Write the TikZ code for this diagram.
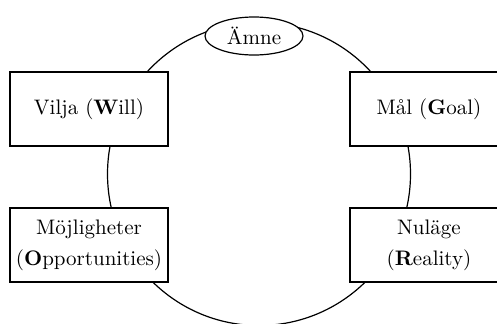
\documentclass[tikz,border=0pt]{standalone}
\usepackage{tikz}
\usetikzlibrary{positioning}
\usetikzlibrary{shapes.geometric}

\tikzset{
  coachbox/.style={draw, fill=white, line width=0.6pt, minimum width=79pt, minimum height=37pt, align=center, inner sep=1pt, font=\fontsize{10.5}{15.5}\selectfont},
  topic/.style={draw, ellipse, fill=white, line width=0.6pt, minimum width=49pt, minimum height=19pt, inner sep=0pt, font=\fontsize{10.5}{13}\selectfont}
}

\begin{document}
\begin{tikzpicture}[x=0.5pt, y=-0.5pt]
  \useasboundingbox (0, 0) rectangle (497, 323);
  \clip (0, 0) rectangle (497, 323);
  \fill [white] (0, 0) rectangle (497, 323);

  \draw [line width=0.6pt] (259, 174) circle (75.75pt);

  \node [topic] (amne) at (254, 36) {Ämne};
  \node [coachbox] (will) at (89, 109) {Vilja (\textbf{W}ill)};
  \node [coachbox] (goal) at (429, 109) {Mål (\textbf{G}oal)};
  \node [coachbox] (opp) at (89, 245) {Möjligheter\\(\textbf{O}pportunities)};
  \node [coachbox] (real) at (429, 245) {Nuläge\\(\textbf{R}eality)};
\end{tikzpicture}
\end{document}
